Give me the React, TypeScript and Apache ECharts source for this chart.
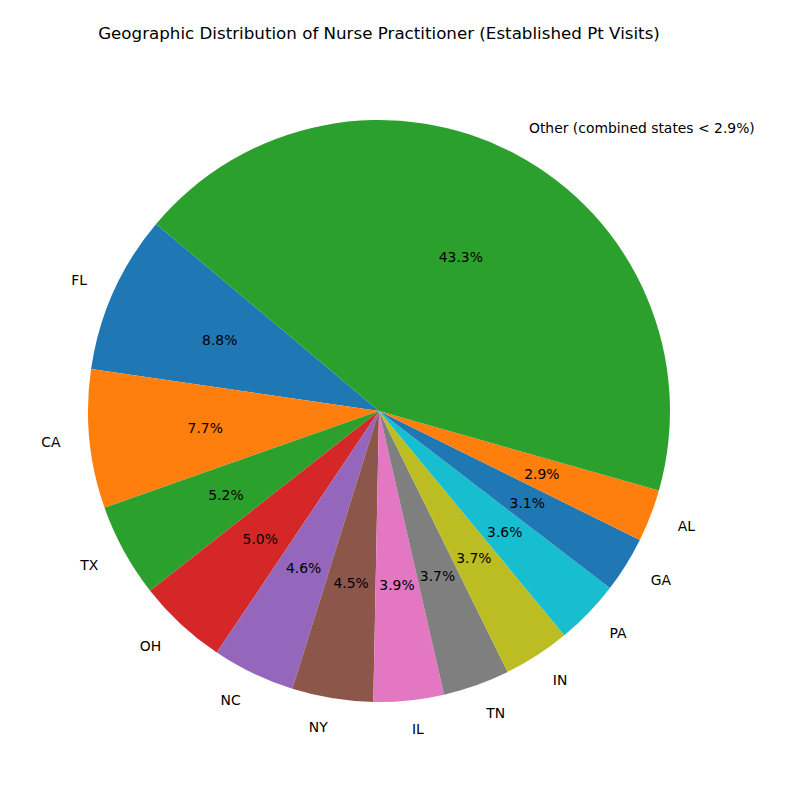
import { useEffect, useRef } from "react";
import * as echarts from "echarts";

const STATES = ["FL", "CA", "TX", "OH", "NC", "NY", "IL", "TN", "IN", "PA", "GA", "AL", "Other (combined states < 2.9%)"];
const SHARES = [8.8, 7.7, 5.2, 5.0, 4.6, 4.5, 3.9, 3.7, 3.7, 3.6, 3.1, 2.9, 43.3];
const COLORS = ["#1f77b4", "#ff7f0e", "#2ca02c", "#d62728", "#9467bd", "#8c564b", "#e377c2", "#7f7f7f", "#bcbd22", "#17becf"];

const CX = 379;
const CY = 411;
const R = 291;
const FONT = "DejaVu Sans";

const App = () => {
  const ref = useRef<HTMLDivElement | null>(null);

  useEffect(() => {
    if (!ref.current) return;
    const chart = echarts.init(ref.current, null, { renderer: "svg" });

    const data = STATES.map((name, i) => ({
      name,
      value: SHARES[i],
      itemStyle: { color: COLORS[i % COLORS.length] },
    }));

    chart.setOption({
      animation: false,
      backgroundColor: "#ffffff",
      title: {
        text: "Geographic Distribution of Nurse Practitioner (Established Pt Visits)",
        left: CX,
        top: 24,
        textAlign: "center",
        padding: 0,
        textStyle: { fontFamily: FONT, fontSize: 16.7, fontWeight: "normal", color: "#000" },
      },
      series: [
        {
          type: "pie",
          center: [CX, CY],
          radius: [0, R],
          startAngle: 140,
          clockwise: false,
          avoidLabelOverlap: false,
          silent: true,
          data,
          label: {
            show: true,
            position: "outside",
            formatter: "{b}",
            fontFamily: FONT,
            fontSize: 13.9,
            color: "#000",
            distanceToLabelLine: 0,
          },
          labelLine: { show: false, length: R * 0.1, length2: 0 },
        },
        {
          type: "pie",
          center: [CX, CY],
          radius: [R * 0.2 - 6, R],
          startAngle: 140,
          clockwise: false,
          avoidLabelOverlap: false,
          silent: true,
          data: STATES.map((name, i) => ({ name, value: SHARES[i] })),
          itemStyle: { color: "rgba(0,0,0,0)" },
          label: {
            show: true,
            position: "inside",
            formatter: (p: { value: number }) => `${p.value.toFixed(1)}%`,
            fontFamily: FONT,
            fontSize: 13.9,
            color: "#000",
          },
          labelLine: { show: false },
        },
      ],
    });

    return () => chart.dispose();
  }, []);

  return (
    <div
      ref={ref}
      style={{ position: "fixed", left: 0, top: 0, width: 800, height: 800 }}
    />
  );
};

export default App;
